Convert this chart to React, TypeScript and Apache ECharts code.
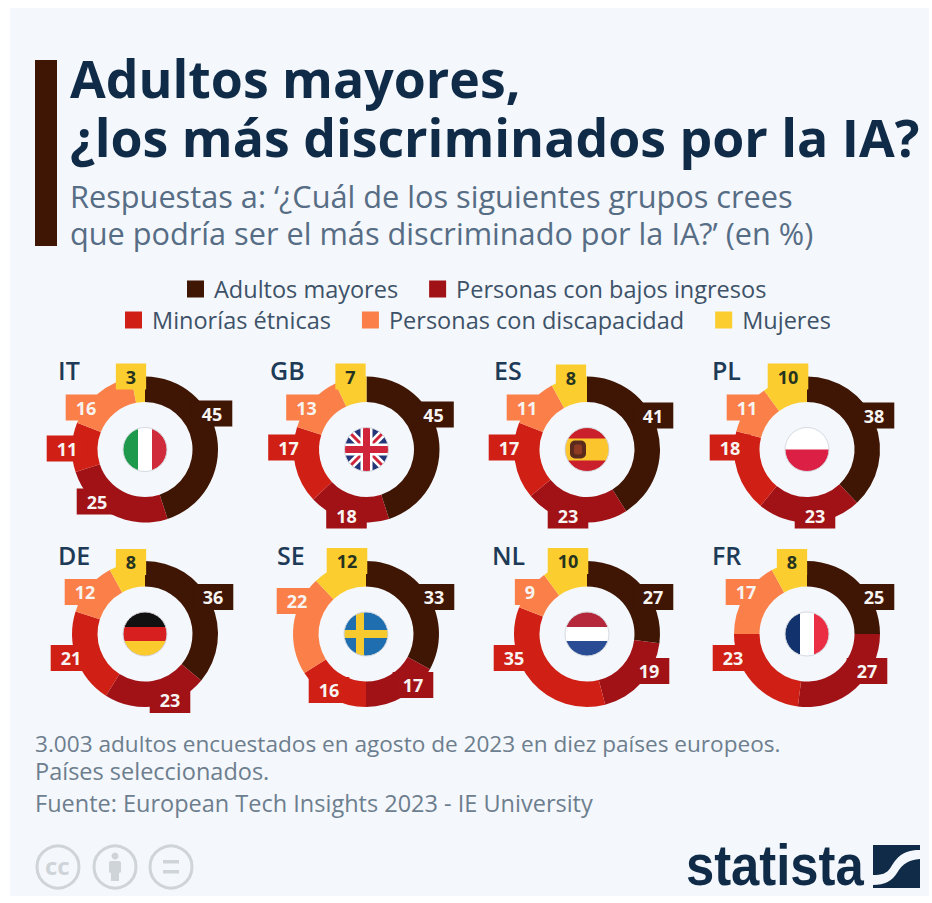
import React, { useEffect, useRef } from "react";
import * as echarts from "echarts";

const countries = ["IT", "GB", "ES", "PL", "DE", "SE", "NL", "FR"];
const groups = [
  "Adultos mayores",
  "Personas con bajos ingresos",
  "Minorías étnicas",
  "Personas con discapacidad",
  "Mujeres",
];
const adultosMayores = [45, 45, 41, 38, 36, 33, 27, 25];
const bajosIngresos = [25, 18, 23, 23, 23, 17, 19, 27];
const minoriasEtnicas = [11, 17, 17, 18, 21, 16, 35, 23];
const discapacidad = [16, 13, 11, 11, 12, 22, 9, 17];
const mujeres = [3, 7, 8, 10, 8, 12, 10, 8];
const groupValues = [adultosMayores, bajosIngresos, minoriasEtnicas, discapacidad, mujeres];

const groupColors = ["#3f1504", "#a01216", "#d01f14", "#fb7f48", "#fbcd2e"];
const NAVY = "#0f2b47";
const SLATE = "#566d85";
const LEGEND_TEXT = "#3d5268";
const FOOT = "#6d7e8e";
const BADGE = "#cfd4d9";
const OPEN = '"Open Sans", sans-serif';
const LIB = '"Liberation Sans", sans-serif';

// Ring centres in page pixels, one per country.
const centers: [number, number][] = [
  [145, 449.5], [366.5, 449.5], [587, 449.5], [807, 449.5],
  [145, 634], [366, 634], [587, 634], [807, 634],
];
// Where each value tag sits relative to its ring centre.
const tagOffsets: [number, number][][] = [
  [[67, -36], [-48, 52], [-78, -1], [-59, -42], [-14, -73]],
  [[67, -35], [-20, 66], [-78, -2], [-60, -42], [-16, -73]],
  [[66, -34], [-19, 66], [-78, -2], [-60, -42], [-16, -72]],
  [[67, -34], [8, 66], [-77, -2], [-60, -42], [-19, -73]],
  [[68, -37], [25, 66], [-74, 24], [-60, -42], [-14, -72]],
  [[68, -37], [47, 51], [-37, 56], [-69, -33], [-19, -73]],
  [[66, -37], [62, 37], [-73, 24], [-57, -42], [-19, -73]],
  [[67, -37], [60, 37], [-74, 24], [-61, -42], [-15, -72]],
];
const codeX = [58, 270, 494, 712, 58, 277, 492, 712];

const flagBodies: Record<string, string> = {
  IT: '<rect width="44" height="44" fill="#fff"/><rect width="15" height="44" fill="#1f9a4d"/><rect x="29" width="15" height="44" fill="#cf2b3a"/>',
  GB: '<rect width="44" height="44" fill="#25357a"/><path d="M0 0L44 44M44 0L0 44" stroke="#fff" stroke-width="8"/><path d="M0 0L44 44M44 0L0 44" stroke="#d0243a" stroke-width="3"/><path d="M22 0V44M0 22H44" stroke="#fff" stroke-width="12"/><path d="M22 0V44M0 22H44" stroke="#d0243a" stroke-width="7"/>',
  ES: '<rect width="44" height="44" fill="#c9202c"/><rect y="11" width="44" height="22" fill="#fbc62d"/><rect x="5" y="13" width="16" height="18" rx="5" fill="#5a2a1c"/><rect x="9" y="17" width="8" height="10" rx="2" fill="#8f3a22"/>',
  PL: '<rect width="44" height="44" fill="#fff"/><rect y="22" width="44" height="22" fill="#dc1f45"/>',
  DE: '<rect width="44" height="44" fill="#d81f1f"/><rect width="44" height="15" fill="#111"/><rect y="29" width="44" height="15" fill="#fbcb2d"/>',
  SE: '<rect width="44" height="44" fill="#1f6fb0"/><rect x="12" width="8" height="44" fill="#f6c92f"/><rect y="18" width="44" height="8" fill="#f6c92f"/>',
  NL: '<rect width="44" height="44" fill="#fff"/><rect width="44" height="15" fill="#b5283c"/><rect y="29" width="44" height="15" fill="#2a4c94"/>',
  FR: '<rect width="44" height="44" fill="#fff"/><rect width="15" height="44" fill="#12326e"/><rect x="29" width="15" height="44" fill="#ea2f45"/>',
};

function flagUri(code: string) {
  const svg = `<svg xmlns="http://www.w3.org/2000/svg" width="46" height="46" viewBox="-1 -1 46 46"><clipPath id="c"><circle cx="22" cy="22" r="22"/></clipPath><g clip-path="url(#c)">${flagBodies[code]}</g><circle cx="22" cy="22" r="22" fill="none" stroke="#d5dae0" stroke-width="1"/></svg>`;
  return "data:image/svg+xml;charset=utf-8," + encodeURIComponent(svg);
}

const LOGO_TOP = "M0 0H47V5C30 5 24 12 18 22C14 29 8 30 0 30Z";
const LOGO_BOTTOM = "M47 14V43H0V40C12 40 19 36 24 28C30 18 36 15 47 14Z";
echarts.graphic.registerShape("logoTop", echarts.graphic.extendPath(LOGO_TOP as any, {}) as any);
echarts.graphic.registerShape("logoBottom", echarts.graphic.extendPath(LOGO_BOTTOM as any, {}) as any);

// Places a line of text by its baseline; top-aligned boxes sit about 0.88em above it.
function line(
  text: string,
  x: number,
  baseline: number,
  weight: number,
  size: number,
  family: string,
  fill: string,
  scaleX = 1
) {
  return {
    type: "text",
    x,
    y: baseline - size * 0.88,
    scaleX,
    silent: true,
    style: { text, font: `${weight} ${size}px ${family}`, fill, verticalAlign: "top", align: "left" },
  };
}

function buildOption() {
  const series = countries.map((code, c) => ({
    type: "pie",
    name: code,
    center: centers[c],
    radius: [47.5, 73],
    startAngle: 90,
    clockwise: true,
    silent: true,
    avoidLabelOverlap: false,
    labelLine: { show: false },
    emphasis: { disabled: true },
    label: {
      show: true,
      position: "inside",
      formatter: "{c}",
      fontFamily: OPEN,
      fontSize: 18,
      fontWeight: 700,
      lineHeight: 18,
      padding: [4, 10],
      color: "#f7f4f2",
    },
    labelLayout: (p: any) => {
      const [dx, dy] = tagOffsets[c][p.dataIndex];
      return { x: centers[c][0] + dx, y: centers[c][1] + dy, align: "center", verticalAlign: "middle" };
    },
    data: groups.map((name, g) => ({
      name,
      value: groupValues[g][c],
      itemStyle: { color: groupColors[g] },
      label: {
        backgroundColor: groupColors[g],
        color: g === 4 ? "#26331f" : "#f7f4f2",
      },
    })),
  }));

  const legendBase = {
    orient: "horizontal",
    icon: "rect",
    itemWidth: 17,
    itemHeight: 17,
    itemGap: 31,
    selectedMode: false,
    padding: 0,
    textStyle: { fontFamily: OPEN, fontSize: 23.5, color: LEGEND_TEXT, padding: [0, 0, 0, 5] },
  };

  const elements: any[] = [
    { type: "rect", shape: { x: 10, y: 8, width: 919, height: 888 }, style: { fill: "#f4f7fb" }, silent: true },
    { type: "rect", shape: { x: 35, y: 60, width: 22, height: 186 }, style: { fill: "#3f1504" }, silent: true },
    line("Adultos mayores,", 70, 98, 700, 51.8, OPEN, NAVY),
    line("¿los más discriminados por la IA?", 70, 157, 700, 51.8, OPEN, NAVY),
    line("Respuestas a: ‘¿Cuál de los siguientes grupos crees", 70, 208, 400, 30.7, OPEN, SLATE),
    line("que podría ser el más discriminado por la IA?’ (en %)", 70, 245, 400, 30.7, OPEN, SLATE),
    line("3.003 adultos encuestados en agosto de 2023 en diez países europeos.", 35, 752, 400, 22.6, OPEN, FOOT),
    line("Países seleccionados.", 35, 780, 400, 23.5, OPEN, FOOT),
    line("Fuente: European Tech Insights 2023 - IE University", 35, 812, 400, 23.5, OPEN, FOOT),
    line("statista", 686, 887, 700, 58, LIB, NAVY, 0.875),
    { type: "logoTop", x: 873, y: 845, style: { fill: NAVY }, silent: true },
    { type: "logoBottom", x: 873, y: 845, style: { fill: NAVY }, silent: true },
    // Licence badges
    { type: "circle", shape: { cx: 58, cy: 867, r: 21 }, style: { fill: "none", stroke: BADGE, lineWidth: 3 }, silent: true },
    { type: "circle", shape: { cx: 115, cy: 867, r: 21 }, style: { fill: "none", stroke: BADGE, lineWidth: 3 }, silent: true },
    { type: "circle", shape: { cx: 171, cy: 867, r: 21 }, style: { fill: "none", stroke: BADGE, lineWidth: 3 }, silent: true },
    line("cc", 45, 875, 700, 24, OPEN, BADGE),
    { type: "circle", shape: { cx: 115, cy: 856, r: 3.5 }, style: { fill: BADGE }, silent: true },
    { type: "rect", shape: { x: 109, y: 861, width: 12, height: 12, r: 2 }, style: { fill: BADGE }, silent: true },
    { type: "rect", shape: { x: 111, y: 870, width: 8, height: 11 }, style: { fill: BADGE }, silent: true },
    { type: "rect", shape: { x: 163, y: 860, width: 16, height: 3.5 }, style: { fill: BADGE }, silent: true },
    { type: "rect", shape: { x: 163, y: 870, width: 16, height: 3.5 }, style: { fill: BADGE }, silent: true },
  ];
  countries.forEach((code, c) => {
    elements.push(line(code, codeX[c], centers[c][1] - 70, 600, 25, OPEN, "#1d3a57"));
    elements.push({
      type: "image",
      silent: true,
      style: { image: flagUri(code), x: centers[c][0] - 23, y: centers[c][1] - 23, width: 46, height: 46 },
    });
  });

  return {
    animation: false,
    backgroundColor: "#ffffff",
    legend: [
      { ...legendBase, left: 187, top: 277, data: groups.slice(0, 2) },
      { ...legendBase, left: 125, top: 308, data: groups.slice(2) },
    ],
    graphic: { elements },
    series,
  };
}

export default function App() {
  const ref = useRef<HTMLDivElement>(null);
  useEffect(() => {
    const chart = echarts.init(ref.current!, undefined, { renderer: "svg" });
    chart.setOption(buildOption() as any);
    return () => chart.dispose();
  }, []);
  return <div ref={ref} style={{ position: "absolute", left: 0, top: 0, width: 932, height: 903 }} />;
}
